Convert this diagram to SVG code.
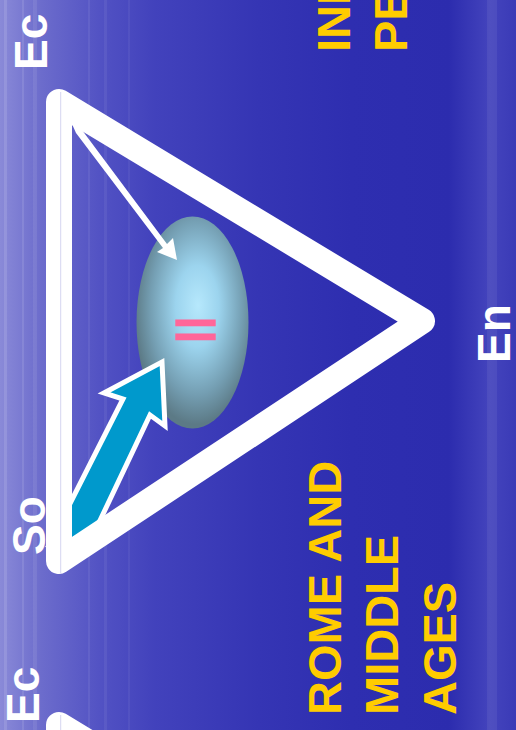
<svg xmlns="http://www.w3.org/2000/svg" width="516" height="730" viewBox="0 0 516 730">
<defs>
<linearGradient id="bg" x1="0" y1="0" x2="1" y2="0">
<stop offset="0" stop-color="#8A8AD8"/>
<stop offset="0.08" stop-color="#6C6CCC"/>
<stop offset="0.2" stop-color="#5151C3"/>
<stop offset="0.3" stop-color="#4242BC"/>
<stop offset="0.5" stop-color="#3535B4"/>
<stop offset="0.68" stop-color="#2E2EB0"/>
<stop offset="0.87" stop-color="#2C2CAE"/>
<stop offset="0.95" stop-color="#4444BD"/>
<stop offset="1" stop-color="#3A3AB6"/>
</linearGradient>
<radialGradient id="eg" cx="0.53" cy="0.43" r="0.55" fx="0.55" fy="0.42">
<stop offset="0" stop-color="#B6E8FC"/>
<stop offset="0.35" stop-color="#9CD4EE"/>
<stop offset="0.75" stop-color="#749EB2"/>
<stop offset="1" stop-color="#5C7A86"/>
</radialGradient>
<style>
.lbl{font-family:"Liberation Sans",Arial,sans-serif;font-weight:bold;font-size:46px;fill:#FFFFFF}
.era{font-family:"Liberation Sans",Arial,sans-serif;font-weight:bold;font-size:47px;fill:#FFCC00}
.tri{fill:none;stroke:#FFFFFF;stroke-width:26;stroke-linejoin:round}
.seam{stroke:#D6D6F0;stroke-width:1}
.streak{fill:#FFFFFF}
</style>
</defs>
<rect width="516" height="730" fill="url(#bg)"/>
<g id="streaks">
<rect class="streak" x="4" y="0" width="3" height="730" opacity="0.12"/>
<rect class="streak" x="22" y="0" width="2" height="730" opacity="0.1"/>
<rect class="streak" x="33" y="0" width="4" height="730" opacity="0.08"/>
<rect class="streak" x="88" y="0" width="2" height="730" opacity="0.07"/>
<rect class="streak" x="104" y="0" width="3" height="730" opacity="0.06"/>
<rect class="streak" x="128" y="0" width="2" height="730" opacity="0.05"/>
<rect class="streak" x="487" y="0" width="10" height="730" opacity="0.06"/>
</g>
<g id="node-ellipse">
<ellipse cx="192.5" cy="322.5" rx="56" ry="106" fill="url(#eg)"/>
<text transform="translate(195.5,347.2) scale(1,0.685)" x="0" y="0" text-anchor="middle" font-family="'Liberation Sans',Arial,sans-serif" font-weight="bold" font-size="77" fill="#FF6699" stroke="#FF6699" stroke-width="1.8">=</text>
</g>
<g id="connectors">
<polygon points="162,362 165,426 150,415 86,550 49,545 123,399 104,393" fill="#0099CC" stroke="#FFFFFF" stroke-width="5" stroke-linejoin="miter"/>
<polygon points="72,124 82,130 167,244 173,238 177,260 157,252 163,248 76,133" fill="#FFFFFF"/>
</g>
<g id="node-triangle">
<path class="tri" d="M59,102 L422,321 L59,561 Z"/>
<line class="seam" x1="60.7" y1="92" x2="60.7" y2="573"/>
</g>
<g id="node-triangle2">
<path class="tri" d="M59,725 L422,944 L59,1184 Z"/>
<line class="seam" x1="60.7" y1="715" x2="60.7" y2="730"/>
</g>
<g id="node-ec-top"><text class="lbl" transform="translate(47,70) rotate(-90)">Ec</text></g>
<g id="node-so"><text class="lbl" transform="translate(45,555) rotate(-90)">So</text></g>
<g id="node-ec-bottom"><text class="lbl" transform="translate(39,723) rotate(-90)">Ec</text></g>
<g id="node-en"><text class="lbl" transform="translate(510,363) rotate(-90)">En</text></g>
<g id="node-rome">
<text class="era" transform="translate(341,715) rotate(-90)">ROME AND</text>
<text class="era" transform="translate(398,715) rotate(-90)">MIDDLE</text>
<text class="era" transform="translate(456,715) rotate(-90)">AGES</text>
</g>
<g id="node-industrial">
<text class="era" transform="translate(350,52) rotate(-90)">INDUSTRIAL</text>
<text class="era" transform="translate(407,52) rotate(-90)">PERIOD</text>
</g>
</svg>
